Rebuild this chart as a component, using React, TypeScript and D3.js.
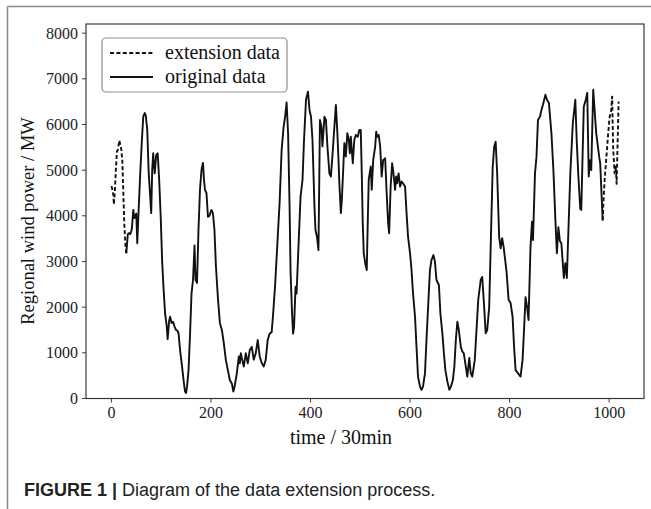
import React from "react";
import * as d3 from "d3";

const xTicks = [0, 200, 400, 600, 800, 1000];
const yTicks = [0, 1000, 2000, 3000, 4000, 5000, 6000, 7000, 8000];

const extStartT = [0, 2, 4, 5, 7, 9, 11, 13, 16, 18, 20, 22, 24, 26, 28, 30];
const extStartV = [4650, 4580, 4450, 4250, 4550, 5000, 5400, 5450, 5650, 5550, 5450, 5200, 4500, 3800, 3400, 3180];

const origT = [
  30, 33, 35, 38, 41, 44, 46, 48, 50, 52, 55, 58, 61, 64, 67, 69, 72, 75, 78, 80,
  82, 84, 87, 90, 93, 96, 99, 102, 105, 108, 111, 113, 116, 118, 121, 124, 127, 130, 133, 135,
  138, 142, 145, 148, 150, 152, 155, 158, 161, 164, 167, 169, 172, 175, 178, 181, 184, 186, 188, 191,
  194, 197, 201, 204, 207, 210, 214, 218, 222, 226, 230, 234, 238, 242, 245, 248, 252, 256, 258, 260,
  263, 266, 270, 274, 278, 282, 286, 290, 294, 298, 302, 306, 310, 314, 318, 322, 325, 329, 333, 338,
  342, 346, 349, 352, 355, 358, 360, 363, 365, 367, 370, 372, 375, 380, 384, 387, 391, 395, 398, 401,
  404, 408, 410, 413, 416, 419, 422, 424, 428, 431, 434, 438, 441, 444, 448, 451, 454, 456, 458, 461,
  463, 466, 468, 471, 474, 477, 479, 481, 485, 488, 491, 495, 498, 501, 503, 505, 507, 510, 513, 515,
  517, 521, 523, 526, 530, 532, 534, 537, 540, 543, 546, 550, 553, 556, 558, 561, 564, 566, 570, 572,
  574, 577, 580, 583, 586, 590, 593, 596, 600, 603, 606, 610, 613, 616, 620, 623, 626, 630, 633, 637,
  640, 643, 647, 650, 653, 658, 661, 665, 668, 671, 675, 679, 682, 686, 689, 692, 695, 698, 702, 705,
  708, 712, 715, 719, 722, 725, 730, 737, 742, 745, 748, 752, 755, 759, 762, 766, 769, 772, 775, 779,
  782, 785, 788, 794, 798, 802, 806, 809, 812, 817, 822, 826, 829, 832, 835, 838, 842, 845, 847, 851,
  854, 857, 861, 864, 867, 872, 875, 879, 884, 888, 892, 895, 898, 901, 904, 909, 912, 915, 922, 927,
  932, 935, 938, 942, 944, 949, 953, 956, 959, 961, 964, 968, 974, 980, 982, 987,
];
const origV = [
  3180, 3600, 3620, 3600, 3700, 4130, 3950, 3980, 4050, 3400, 4200, 4940, 5600, 6170, 6250, 6200, 5900, 4930, 4420, 4060,
  5000, 5370, 4930, 5330, 5370, 4790, 4000, 3000, 2370, 1850, 1600, 1300, 1700, 1790, 1650, 1680, 1570, 1500, 1480, 1420,
  1060, 700, 400, 150, 120, 260, 620, 1400, 2300, 2600, 3350, 2600, 2530, 3700, 4570, 5000, 5160, 4800, 4570, 4500,
  3980, 4000, 4130, 4060, 3700, 2900, 2200, 1650, 1500, 1200, 840, 620, 400, 330, 150, 290, 550, 920, 770, 990,
  840, 700, 990, 770, 1060, 1130, 850, 990, 1280, 920, 780, 700, 840, 1280, 1420, 1450, 1860, 2500, 3300, 4300,
  5440, 5950, 6170, 6480, 5800, 4200, 2750, 1860, 1420, 1570, 2450, 2300, 3100, 4420, 4790, 5660, 6540, 6720, 6320, 6170,
  5660, 4200, 3690, 3540, 3250, 6100, 5950, 5520, 6170, 6100, 5520, 4930, 4860, 5300, 5950, 6430, 5810, 5300, 4710, 4060,
  4350, 5080, 5590, 5300, 5810, 5660, 5370, 5730, 5150, 5660, 5770, 5730, 5880, 5880, 4930, 3840, 3180, 2960, 2810, 3840,
  4790, 5080, 4570, 5220, 5520, 5840, 5730, 5770, 5520, 4860, 5220, 5260, 4500, 3840, 3620, 4640, 5150, 5000, 4570, 4860,
  4710, 4930, 4640, 4750, 4710, 4640, 4060, 3540, 3180, 2810, 2300, 1790, 1130, 480, 260, 190, 260, 550, 1280, 2160,
  2810, 3030, 3140, 3000, 2600, 2480, 1860, 1420, 990, 620, 370, 190, 260, 400, 700, 1280, 1680, 1500, 1130, 1030,
  990, 700, 480, 890, 550, 480, 840, 2160, 2600, 2660, 2160, 1430, 1500, 2000, 3320, 5060, 5510, 5620, 4930, 3540,
  3290, 3510, 3320, 2760, 2160, 2090, 1790, 1130, 620, 550, 480, 840, 1500, 2220, 2010, 1720, 3320, 3870, 3470, 4930,
  5290, 6100, 6170, 6320, 6430, 6650, 6540, 6470, 5810, 5000, 3900, 3180, 3750, 3450, 3400, 2640, 2960, 2640, 4930, 6030,
  6540, 5600, 4900, 4150, 4130, 6390, 6540, 6690, 4860, 5220, 5000, 6760, 5810, 5290, 5150, 3900,
];

const extEndT = [987, 988, 991, 994, 998, 1001, 1004, 1006, 1008, 1011, 1013, 1015, 1019];
const extEndV = [3900, 4200, 4800, 5220, 5800, 6170, 6300, 6610, 5500, 4930, 5100, 4700, 6500];

const W = 651;
const H = 509;
const plot = { left: 86, right: 644, top: 24, bottom: 398.5 };

export default function App() {
  const x = d3.scaleLinear().domain([-51, 1070]).range([plot.left, plot.right]);
  const y = d3.scaleLinear().domain([0, 8200]).range([plot.bottom, plot.top]);
  const line = d3
    .line<[number, number]>()
    .x((d) => x(d[0]))
    .y((d) => y(d[1]));
  const zip = (t: number[], v: number[]) => t.map((tt, i) => [tt, v[i]] as [number, number]);

  const serif = "'Liberation Serif', 'DejaVu Serif', serif";
  const sans = "'Liberation Sans', Arial, sans-serif";
  const axisColor = "#3a3a3a";

  return (
    <svg
      width={W}
      height={H}
      style={{ position: "absolute", left: 0, top: 0, background: "#fff" }}
    >
      {/* outer figure frame */}
      <line x1={7.5} y1={6.5} x2={W} y2={6.5} stroke="#8a8a8a" strokeWidth={1.5} />
      <line x1={7.5} y1={6.5} x2={7.5} y2={H} stroke="#8a8a8a" strokeWidth={1.5} />

      {/* lines */}
      <g fill="none" stroke="#111" strokeWidth={1.9} strokeLinejoin="round">
        <path d={line(zip(origT, origV)) || ""} />
        <path d={line(zip(extStartT, extStartV)) || ""} strokeDasharray="4,2.4" />
        <path d={line(zip(extEndT, extEndV)) || ""} strokeDasharray="4,2.4" />
      </g>

      {/* axes box */}
      <rect
        x={plot.left}
        y={plot.top}
        width={plot.right - plot.left}
        height={plot.bottom - plot.top}
        fill="none"
        stroke={axisColor}
        strokeWidth={1.2}
      />

      {/* x ticks */}
      {xTicks.map((t) => (
        <g key={"x" + t}>
          <line x1={x(t)} x2={x(t)} y1={plot.bottom} y2={plot.bottom + 4} stroke={axisColor} strokeWidth={1} />
          <text
            x={x(t)}
            y={418}
            textAnchor="middle"
            fontFamily={serif}
            fontSize={16}
            fill="#222"
          >
            {t}
          </text>
        </g>
      ))}

      {/* y ticks */}
      {yTicks.map((t) => (
        <g key={"y" + t}>
          <line x1={plot.left - 4} x2={plot.left} y1={y(t)} y2={y(t)} stroke={axisColor} strokeWidth={1} />
          <text
            x={78}
            y={y(t)}
            dy="0.34em"
            textAnchor="end"
            fontFamily={serif}
            fontSize={16}
            fill="#222"
          >
            {t}
          </text>
        </g>
      ))}

      {/* axis labels */}
      <text x={341} y={444} textAnchor="middle" fontFamily={serif} fontSize={20} fill="#111">
        time / 30min
      </text>
      <text
        transform={`translate(34,221) rotate(-90)`}
        textAnchor="middle"
        fontFamily={serif}
        fontSize={18.5}
        fill="#111"
      >
        Regional wind power / MW
      </text>

      {/* legend */}
      <rect x={102} y={38} width={185} height={54} rx={4} fill="#fff" stroke="#8f8f8f" strokeWidth={1.2} />
      <line x1={110} x2={153} y1={53} y2={53} stroke="#111" strokeWidth={1.9} strokeDasharray="4,2.4" />
      <line x1={110} x2={153} y1={77} y2={77} stroke="#111" strokeWidth={1.9} />
      <text x={165} y={59} fontFamily={serif} fontSize={20} fill="#111">
        extension data
      </text>
      <text x={165} y={83} fontFamily={serif} fontSize={20} fill="#111">
        original data
      </text>

      {/* caption */}
      <text x={24} y={496} fontFamily={sans} fontSize={18} fill="#222">
        <tspan fontWeight="bold">FIGURE 1</tspan>
        <tspan fontWeight="bold"> | </tspan>
        <tspan>Diagram of the data extension process.</tspan>
      </text>
    </svg>
  );
}
